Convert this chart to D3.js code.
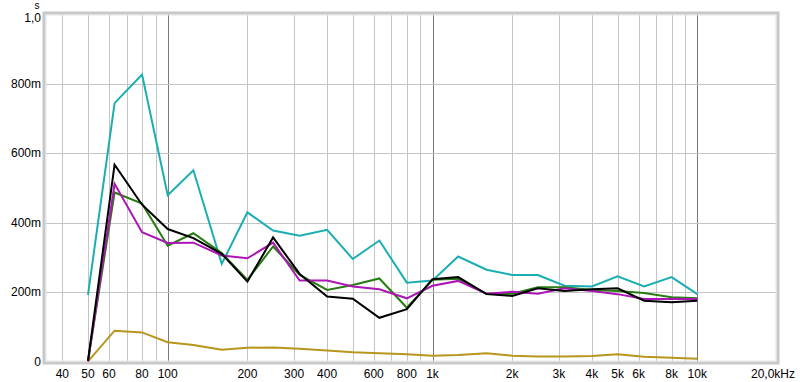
<!DOCTYPE html>
<html lang="en">
<head>
<meta charset="UTF-8">
<title>RT</title>
<script src="https://d3js.org/d3.v7.min.js"></script>
<style>
  body { margin: 0; background: #fff; }
  text { font-family: "Liberation Sans", Arial, sans-serif; font-size: 12px; fill: #000; }
</style>
</head>
<body>
<div id="container"></div>
<script>
// band centre frequencies (Hz)
const freqs = [50, 63, 80, 100, 125, 160, 200, 250, 315, 400, 500, 630, 800,
               1000, 1250, 1600, 2000, 2500, 3150, 4000, 5000, 6300, 8000, 10000];

// reverberation times (s)
const cyan    = [0.193, 0.744, 0.826, 0.479, 0.551, 0.282, 0.430, 0.378, 0.363, 0.380, 0.296, 0.349, 0.228,
                 0.234, 0.303, 0.265, 0.250, 0.250, 0.219, 0.217, 0.246, 0.217, 0.244, 0.195];
const black   = [0.003, 0.567, 0.452, 0.382, 0.356, 0.311, 0.231, 0.358, 0.253, 0.188, 0.182, 0.127, 0.152,
                 0.238, 0.244, 0.195, 0.190, 0.212, 0.204, 0.209, 0.212, 0.176, 0.172, 0.176];
const green   = [0.003, 0.487, 0.455, 0.334, 0.370, 0.313, 0.236, 0.332, 0.250, 0.207, 0.221, 0.240, 0.156,
                 0.236, 0.239, 0.196, 0.196, 0.215, 0.215, 0.207, 0.204, 0.198, 0.186, 0.183];
const magenta = [0.002, 0.512, 0.373, 0.342, 0.343, 0.306, 0.298, 0.343, 0.234, 0.234, 0.217, 0.209, 0.183,
                 0.219, 0.233, 0.196, 0.202, 0.196, 0.212, 0.204, 0.195, 0.181, 0.181, 0.181];
const olive   = [0.002, 0.090, 0.085, 0.057, 0.049, 0.035, 0.041, 0.042, 0.038, 0.033, 0.028, 0.025, 0.022,
                 0.018, 0.020, 0.025, 0.018, 0.016, 0.016, 0.017, 0.022, 0.015, 0.012, 0.009];

const xTickVals   = [40, 50, 60, 80, 100, 200, 300, 400, 600, 800, 1000, 2000, 3000, 4000, 5000, 6000, 8000, 10000, 20000];
const xTickLabels = ["40", "50", "60", "80", "100", "200", "300", "400", "600", "800", "1k", "2k", "3k", "4k", "5k", "6k", "8k", "10k", "20,0kHz"];
const yTickVals   = [0, 0.2, 0.4, 0.6, 0.8, 1.0];
const yTickLabels = ["0", "200m", "400m", "600m", "800m", "1,0"];

const W = 800, H = 382;
const pLeft = 45, pRight = 777, pTop = 14, pBottom = 362;

const svg = d3.select("#container").append("svg").attr("width", W).attr("height", H);

const x = d3.scaleLog().domain([34.4, 20000]).range([pLeft, pRight]);
const y = d3.scaleLinear().domain([0, 1]).range([pBottom, pTop]);

// vertical grid, only up to 10k
let grid = [];
[10, 100, 1000].forEach(d => { for (let k = 1; k <= 9; k++) grid.push(d * k); });
grid.push(10000);
grid = grid.filter(f => f >= 40 && f <= 10000);
const major = [100, 1000, 10000];

svg.append("g").selectAll("line")
  .data(grid)
  .enter().append("line")
  .attr("x1", d => Math.round(x(d)) + 0.5).attr("x2", d => Math.round(x(d)) + 0.5)
  .attr("y1", pTop).attr("y2", pBottom)
  .attr("stroke", d => major.includes(d) ? "#7a7a7a" : "#c4c4c4")
  .attr("stroke-width", 1);

svg.append("g").selectAll("line")
  .data(yTickVals.slice(1, 5))
  .enter().append("line")
  .attr("x1", pLeft).attr("x2", pRight)
  .attr("y1", d => Math.round(y(d)) + 0.5).attr("y2", d => Math.round(y(d)) + 0.5)
  .attr("stroke", "#c4c4c4");

// frame
svg.append("rect")
  .attr("x", pLeft - 1).attr("y", pTop - 1)
  .attr("width", pRight - pLeft + 2).attr("height", pBottom - pTop + 2)
  .attr("fill", "none").attr("stroke", "#c8c8c8").attr("stroke-width", 3);
svg.append("rect")
  .attr("x", pLeft + 1).attr("y", pTop + 1)
  .attr("width", pRight - pLeft - 2).attr("height", pBottom - pTop - 2)
  .attr("fill", "none").attr("stroke", "#e4e4e4").attr("stroke-width", 1);

// series
const series = [
  { vals: olive,   color: "#b8951c" },
  { vals: cyan,    color: "#1aaeb2" },
  { vals: green,   color: "#277c12" },
  { vals: magenta, color: "#ac16b6" },
  { vals: black,   color: "#000000" }
];
const line = d3.line().x((d, i) => x(freqs[i])).y(d => y(d));
svg.append("g").selectAll("path")
  .data(series)
  .enter().append("path")
  .attr("d", s => line(s.vals))
  .attr("fill", "none")
  .attr("stroke", s => s.color)
  .attr("stroke-width", 2)
  .attr("stroke-linejoin", "miter");

// x labels
svg.append("g").selectAll("text")
  .data(xTickVals)
  .enter().append("text")
  .attr("x", (d, i) => i === xTickVals.length - 1 ? x(d) - 4 : x(d))
  .attr("y", 378)
  .attr("text-anchor", "middle")
  .text((d, i) => xTickLabels[i]);

// y labels (top one sits a bit lower, under the unit)
svg.append("g").selectAll("text")
  .data(yTickVals)
  .enter().append("text")
  .attr("x", 41)
  .attr("y", (d, i) => i === yTickVals.length - 1 ? y(d) + 7.5 : y(d) + 4)
  .attr("text-anchor", "end")
  .text((d, i) => yTickLabels[i]);

svg.append("text").attr("x", 37).attr("y", 9).attr("text-anchor", "middle")
  .style("font-size", "10px").text("s");
</script>
</body>
</html>
